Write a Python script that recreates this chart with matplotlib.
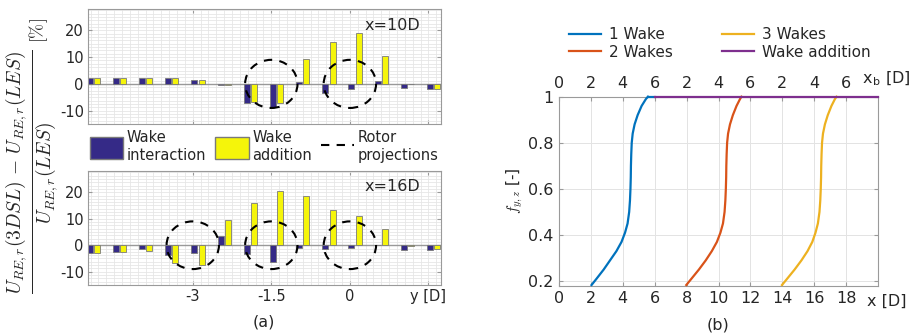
import matplotlib
matplotlib.use('Agg')
import matplotlib.pyplot as plt
from matplotlib.patches import Ellipse, Patch
from matplotlib.lines import Line2D
from matplotlib.ticker import MultipleLocator

plt.rcParams['axes.unicode_minus'] = False
plt.rcParams['font.family'] = 'DejaVu Sans'
plt.rcParams['mathtext.fontset'] = 'cm'

# --- (a) rotor-equivalent velocity error, bars per lateral position y [D]
y_pos = [-4.9, -4.4, -3.9, -3.4, -2.9, -2.4, -1.9, -1.4, -0.9, -0.4, 0.1, 0.6, 1.1, 1.6]
inter_10D = [2.2, 2.2, 2.2, 2.2, 1.5, -0.5, -7.1, -8.6, 0.6, -3.3, -2.0, 1.1, -1.6, -1.9]
addit_10D = [2.2, 2.2, 2.2, 2.2, 1.3, -0.4, -6.8, -7.3, 9.3, 15.7, 19.1, 10.6, -0.2, -1.8]
inter_16D = [-3.0, -2.7, -1.3, -3.7, -2.8, 3.3, -3.4, -6.5, -1.1, -1.5, -0.9, 0.0, -1.8, -1.9]
addit_16D = [-3.0, -2.7, -2.0, -6.8, -7.6, 9.6, 16.1, 20.3, 18.5, 13.4, 11.1, 6.2, -0.3, -1.6]
rotors_10D = [-1.5, 0.0]
rotors_16D = [-3.0, -1.5, 0.0]
rotor_d = 1.0        # rotor diameter [D]
rotor_h = 18.0       # drawn height of the projection [%]

# --- (b) blending factor f_{y,z} vs x
f_levels = [0.183, 0.21, 0.25, 0.29, 0.33, 0.37, 0.41, 0.45, 0.50, 0.55, 0.60,
            0.65, 0.70, 0.75, 0.80, 0.84, 0.88, 0.92, 0.96, 0.99, 1.0]
wake1_x = [2.04, 2.35, 2.80, 3.20, 3.60, 3.92, 4.14, 4.30, 4.40, 4.45, 4.48,
           4.50, 4.51, 4.53, 4.56, 4.62, 4.74, 4.93, 5.18, 5.45, 5.58]
wake2_x = [7.98, 8.30, 8.77, 9.20, 9.58, 9.90, 10.12, 10.28, 10.38, 10.43, 10.46,
           10.48, 10.49, 10.51, 10.54, 10.60, 10.72, 10.90, 11.13, 11.35, 11.44]
wake3_x = [13.98, 14.30, 14.77, 15.20, 15.58, 15.88, 16.08, 16.23, 16.33, 16.38, 16.41,
           16.43, 16.44, 16.46, 16.49, 16.55, 16.67, 16.85, 17.08, 17.30, 17.40]
wake1_tail_x = [5.58, 6.0]
add_x = [6.0, 20.0]
xb_labels = ['0', '2', '4', '6', '2', '4', '6', '2', '4', '6']

C_INT = '#352A87'
C_ADD = '#F5F50A'
TXT = '#262626'
FRAME = '#9a9a9a'

fig = plt.figure(figsize=(9.11, 3.34), dpi=100)


def style_bar_axes(ax, title, show_xlabels):
    ax.set_xlim(-5.0, 1.74)
    ax.set_ylim(-15, 28)
    ax.set_xticks([-3, -1.5, 0, 1.5])
    ax.set_yticks([-10, 0, 10, 20])
    ax.xaxis.set_minor_locator(MultipleLocator(0.15))
    ax.yaxis.set_minor_locator(MultipleLocator(1.25))
    ax.grid(which='minor', color='#e6e6e6', linewidth=0.6)
    ax.grid(which='major', color='#e6e6e6', linewidth=0.6)
    ax.set_axisbelow(True)
    ax.tick_params(which='both', direction='in', top=True, right=True,
                   colors=FRAME, labelcolor=TXT, labelsize=10.5, pad=3)
    ax.tick_params(which='minor', length=0)
    ax.tick_params(which='major', length=3)
    if show_xlabels:
        ax.set_xticklabels(['-3', '-1.5', '0', 'y [D]'])
    else:
        ax.set_xticklabels([])
    for s in ax.spines.values():
        s.set_edgecolor(FRAME)
        s.set_linewidth(0.8)
    ax.axhline(0, color='#999999', linewidth=1.0, zorder=1)
    ax.text(0.94, 0.86, title, transform=ax.transAxes, ha='right', va='center',
            fontsize=11.5, color=TXT)


def draw_bars(ax, inter, addit, rotors):
    off = 0.07
    w = 0.115
    ax.bar([p - off for p in y_pos], inter, width=w, color=C_INT,
           edgecolor='#7a7a7a', linewidth=0.6, zorder=2)
    ax.bar([p + off for p in y_pos], addit, width=w, color=C_ADD,
           edgecolor='#7a7a7a', linewidth=0.6, zorder=2)
    for c in rotors:
        ax.add_patch(Ellipse((c, 0), rotor_d, rotor_h, fill=False,
                             edgecolor='black', linewidth=1.5,
                             linestyle=(0, (4, 3.5)), zorder=3))


ax1 = fig.add_axes([0.0966, 0.6287, 0.3875, 0.3443])
draw_bars(ax1, inter_10D, addit_10D, rotors_10D)
style_bar_axes(ax1, 'x=10D', False)

ax2 = fig.add_axes([0.0966, 0.1467, 0.3875, 0.3413])
draw_bars(ax2, inter_16D, addit_16D, rotors_16D)
style_bar_axes(ax2, 'x=16D', True)

fig.text(0.036, 0.485,
         r'$\frac{U_{RE,r}(3DSL)\,-\,U_{RE,r}(LES)}{U_{RE,r}(LES)}$',
         rotation=90, ha='center', va='center', fontsize=20, color=TXT)
fig.text(0.042, 0.91, r'$[\%]$', rotation=90, ha='center', va='center',
         fontsize=13, color=TXT)

handles = [Patch(facecolor=C_INT, edgecolor='#7a7a7a'),
           Patch(facecolor=C_ADD, edgecolor='#7a7a7a'),
           Line2D([0], [0], color='black', linewidth=1.5, linestyle=(0, (4, 3.5)))]
fig.legend(handles, ['Wake\ninteraction', 'Wake\naddition', 'Rotor\nprojections'],
           loc='center', bbox_to_anchor=(0.29, 0.561), ncol=3, frameon=False,
           fontsize=10.5, handlelength=2.3, handleheight=2.0, handletextpad=0.25,
           columnspacing=0.6, labelspacing=0.1, borderpad=0.1,
           labelcolor=TXT)
fig.text(0.29, 0.036, '(a)', ha='center', va='center', fontsize=11.5, color=TXT)

# --- (b)
ax3 = fig.add_axes([0.6136, 0.1446, 0.3502, 0.5659])
ax3.plot(wake1_x, f_levels, color='#0072BD', linewidth=1.6, label='1 Wake',
         clip_on=False, zorder=3)
ax3.plot(wake1_tail_x, [1.0, 1.0], color='#0072BD', linewidth=1.6,
         clip_on=False, zorder=3)
ax3.plot(wake2_x, f_levels, color='#D95319', linewidth=1.6, label='2 Wakes',
         clip_on=False, zorder=3)
ax3.plot(wake3_x, f_levels, color='#EDB120', linewidth=1.6, label='3 Wakes',
         clip_on=False, zorder=3)
ax3.plot(add_x, [1.0, 1.0], color='#7E2F8E', linewidth=1.6, label='Wake addition',
         clip_on=False, zorder=4)
ax3.set_xlim(0, 20)
ax3.set_ylim(0.18, 1.0)
ax3.set_xticks(range(0, 20, 2))
ax3.set_yticks([0.2, 0.4, 0.6, 0.8, 1.0])
ax3.set_yticklabels(['0.2', '0.4', '0.6', '0.8', '1'])
ax3.grid(True, color='#e3e3e3', linewidth=0.7)
ax3.set_axisbelow(True)
ax3.tick_params(direction='in', top=True, right=True, length=3,
                colors=FRAME, labelcolor=TXT, labelsize=11.5, pad=4)
for s in ax3.spines.values():
    s.set_edgecolor(FRAME)
    s.set_linewidth(0.8)
ax3.set_ylabel(r'$f_{y,z}$ [-]', fontsize=11, color=TXT, labelpad=2)
ax3.text(19.3, -0.045, 'x [D]', transform=ax3.get_xaxis_transform(),
         ha='left', va='top', fontsize=11.5, color=TXT)

top = ax3.secondary_xaxis('top')
top.set_xticks(range(0, 20, 2))
top.set_xticklabels(xb_labels)
top.tick_params(direction='in', length=0, colors=FRAME, labelcolor=TXT,
                labelsize=11.5, pad=4)
top.spines['top'].set_visible(False)
ax3.text(19.0, 1.045, r'x$_\mathregular{b}$ [D]', transform=ax3.get_xaxis_transform(),
         ha='left', va='bottom', fontsize=11.5, color=TXT)

fig.legend(*ax3.get_legend_handles_labels(), loc='center',
           bbox_to_anchor=(0.79, 0.87), ncol=2, frameon=False, fontsize=11,
           handlelength=2.1, handletextpad=0.55, columnspacing=3.2,
           labelspacing=0.15, labelcolor=TXT)
fig.text(0.788, 0.027, '(b)', ha='center', va='center', fontsize=11.5, color=TXT)

fig.savefig('out.png', dpi=100)
